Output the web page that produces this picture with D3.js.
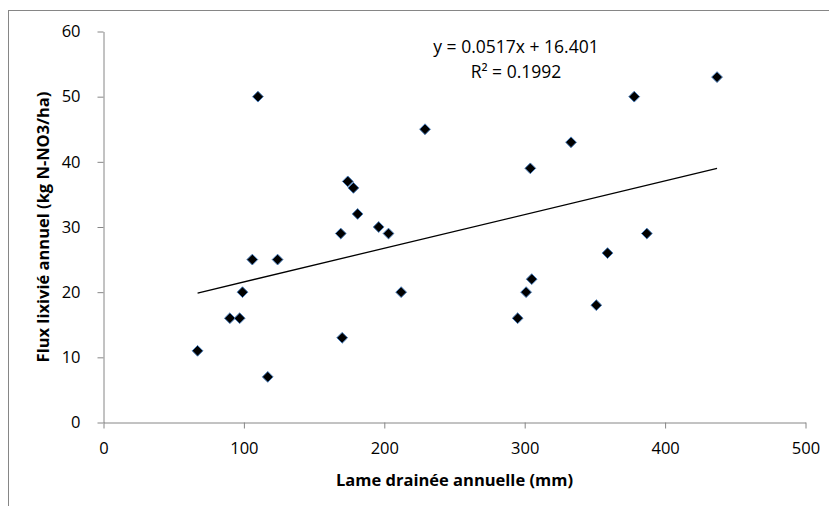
<!DOCTYPE html>
<html>
<head>
<meta charset="utf-8">
<script src="https://cdn.jsdelivr.net/npm/d3@7"></script>
<style>
  body { margin: 0; background: #fff; }
  #chart { width: 829px; height: 506px; }
</style>
</head>
<body>
<div id="chart"></div>
<script>
const drainage = [67, 90, 97, 99, 106, 124, 117, 110, 169, 174, 178, 181, 196, 203, 212, 170, 229, 295, 301, 305, 304, 333, 351, 359, 378, 387, 437];
const flux = [11, 16, 16, 20, 25, 25, 7, 50, 29, 37, 36, 32, 30, 29, 20, 13, 45, 16, 20, 22, 39, 43, 18, 26, 50, 29, 53];
const xTicks = [0, 100, 200, 300, 400, 500];
const yTicks = [0, 10, 20, 30, 40, 50, 60];
const slope = 0.0517;
const intercept = 16.401;
const equationLines = ["y = 0.0517x + 16.401", "R² = 0.1992"];
const xTitle = "Lame drainée annuelle (mm)";
const yTitle = "Flux lixivié annuel (kg N-NO3/ha)";

(function() {
  const FONT = "'Open Sans', 'DejaVu Sans', sans-serif";
  const AXISCOLOR = "#868686";
  const MARKERFILL = "#000000";
  const MARKERSTROKE = "#4a7ebb";

  const width = 829;
  const height = 506;
  const plot = { left: 103.5, right: 805.5, top: 31.5, bottom: 422.5 };

  const svg = d3
    .select("#chart")
    .append("svg")
    .attr("width", width)
    .attr("height", height);

  // chart frame (cropped at right and bottom)
  svg
    .append("rect")
    .attr("x", 8.5)
    .attr("y", 10.5)
    .attr("width", width + 20)
    .attr("height", height + 20)
    .attr("fill", "none")
    .attr("stroke", AXISCOLOR)
    .attr("stroke-width", 1);

  const x = d3
    .scaleLinear()
    .domain([0, 500])
    .range([plot.left, plot.right]);
  const y = d3
    .scaleLinear()
    .domain([0, 60])
    .range([plot.bottom, plot.top]);

  const bottomAxis = d3
    .axisBottom(x)
    .tickValues(xTicks)
    .tickSize(6)
    .tickSizeOuter(0)
    .tickPadding(14)
    .tickFormat(d3.format("d"));
  const gx = svg
    .append("g")
    .attr("transform", `translate(0, ${plot.bottom})`)
    .call(bottomAxis);

  const leftAxis = d3
    .axisLeft(y)
    .tickValues(yTicks)
    .tickSize(6)
    .tickSizeOuter(0)
    .tickPadding(17)
    .tickFormat(d3.format("d"));
  const gy = svg
    .append("g")
    .attr("transform", `translate(${plot.left}, 0)`)
    .call(leftAxis);

  [gx, gy].forEach(g => {
    g.select(".domain").attr("stroke", AXISCOLOR);
    g.selectAll(".tick line").attr("stroke", AXISCOLOR);
    g.selectAll(".tick text")
      .attr("fill", "#000")
      .style("font-family", FONT)
      .style("font-size", "16.5px");
  });

  // trend line over the data range
  const xMin = d3.min(drainage);
  const xMax = d3.max(drainage);
  const trend = [xMin, xMax].map(v => ({ x: v, y: slope * v + intercept }));
  svg
    .append("path")
    .datum(trend)
    .attr(
      "d",
      d3
        .line()
        .x(d => x(d.x))
        .y(d => y(d.y))
    )
    .attr("stroke", "#000")
    .attr("stroke-width", 1.3)
    .attr("fill", "none");

  const points = drainage.map((d, i) => ({ x: d, y: flux[i] }));
  svg
    .append("g")
    .selectAll("path")
    .data(points)
    .enter()
    .append("path")
    .attr("d", d3.symbol().type(d3.symbolDiamond2).size(74))
    .attr("transform", d => `translate(${x(d.x)}, ${y(d.y)})`)
    .attr("fill", MARKERFILL)
    .attr("stroke", MARKERSTROKE)
    .attr("stroke-width", 1);

  // regression label
  svg
    .append("g")
    .selectAll("text")
    .data(equationLines)
    .enter()
    .append("text")
    .attr("x", 516)
    .attr("y", (d, i) => 53 + i * 25)
    .attr("text-anchor", "middle")
    .style("font-family", FONT)
    .style("font-size", "17.5px")
    .attr("fill", "#000")
    .text(d => d);

  svg
    .append("text")
    .attr("x", (plot.left + plot.right) / 2)
    .attr("y", 486)
    .attr("text-anchor", "middle")
    .style("font-family", FONT)
    .style("font-size", "16.5px")
    .style("font-weight", "bold")
    .attr("fill", "#000")
    .text(xTitle);

  svg
    .append("text")
    .attr(
      "transform",
      `translate(49, ${(plot.top + plot.bottom) / 2}) rotate(-90)`
    )
    .attr("text-anchor", "middle")
    .style("font-family", FONT)
    .style("font-size", "16.5px")
    .style("font-weight", "bold")
    .attr("fill", "#000")
    .text(yTitle);
})();
</script>
</body>
</html>
